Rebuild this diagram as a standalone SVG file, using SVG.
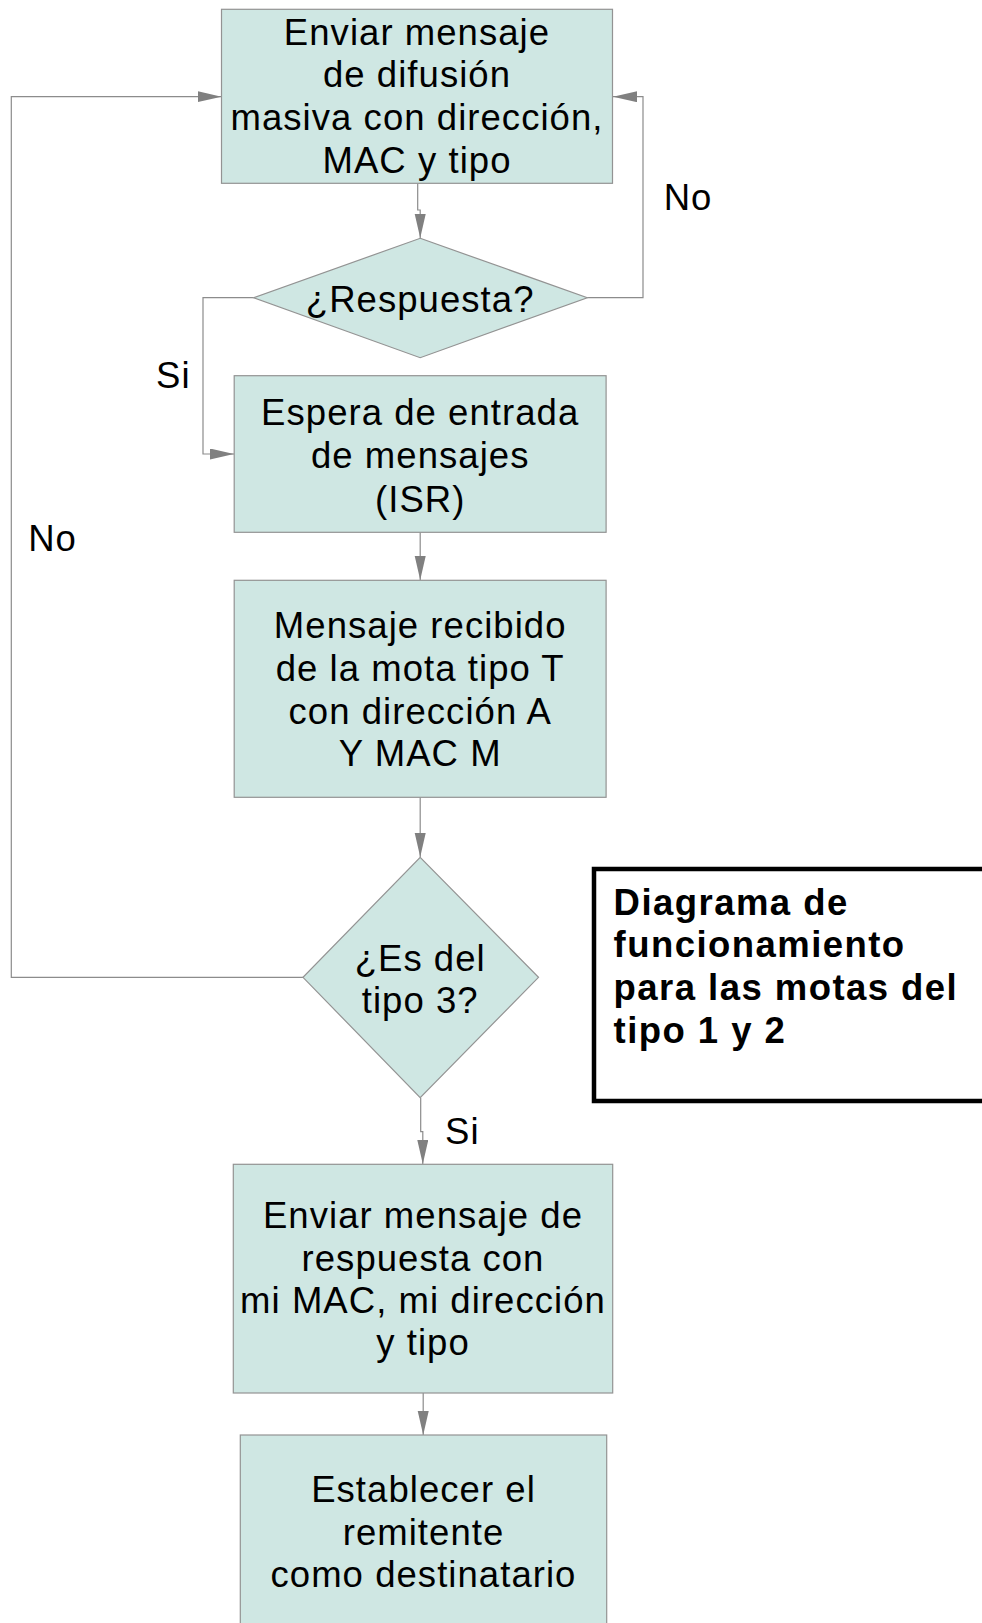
<svg xmlns="http://www.w3.org/2000/svg" width="982" height="1623" viewBox="0 0 982 1623">
<defs>
<style>
.box{fill:#cfe7e3;stroke:#939393;stroke-width:1.2}
.t{font-family:"Liberation Sans",Arial,sans-serif;font-size:36.5px;letter-spacing:1.05px;fill:#000;text-anchor:middle}
.lbl{font-family:"Liberation Sans",Arial,sans-serif;font-size:36.5px;letter-spacing:1.05px;fill:#000}
.title{font-family:"Liberation Sans",Arial,sans-serif;font-size:36.5px;font-weight:bold;letter-spacing:1.45px;fill:#000}
.c{fill:none;stroke:#8c8c8c;stroke-width:1.2}
</style>
<marker id="ah" markerUnits="userSpaceOnUse" markerWidth="26" markerHeight="12" refX="24" refY="5.5" orient="auto">
<path d="M0,0 L24,5.5 L0,11 z" fill="#808080"/>
</marker>
</defs>
<g id="connectors">
<path class="c" d="M417.7,183.3 V210 H420.2 V238" marker-end="url(#ah)"/>
<path class="c" d="M587.3,297.7 H643 V96.7 H613" marker-end="url(#ah)"/>
<path class="c" d="M253.6,297.7 H203 V454 H234" marker-end="url(#ah)"/>
<path class="c" d="M420.2,532.3 V580" marker-end="url(#ah)"/>
<path class="c" d="M420.2,797.3 V857" marker-end="url(#ah)"/>
<path class="c" d="M303,977.3 H11.3 V96.7 H221.5" marker-end="url(#ah)"/>
<path class="c" d="M420.7,1097.7 V1131.7 H422.8 V1164" marker-end="url(#ah)"/>
<path class="c" d="M423.2,1393 V1435" marker-end="url(#ah)"/>
</g>
<g id="n1">
<rect class="box" x="221.5" y="9.3" width="391" height="174"/>
<text class="t" x="417" y="44.5">Enviar mensaje</text>
<text class="t" x="417" y="87.3">de difusión</text>
<text class="t" x="417" y="130.1">masiva con dirección,</text>
<text class="t" x="417" y="172.9">MAC y tipo</text>
</g>
<g id="d1">
<polygon class="box" points="420.2,238.3 587.3,297.7 420.2,357.7 253.6,297.7"/>
<text class="t" x="420.2" y="311.7">¿Respuesta?</text>
</g>
<g id="n2">
<rect class="box" x="234.2" y="375.7" width="371.9" height="156.6"/>
<text class="t" x="420.2" y="425">Espera de entrada</text>
<text class="t" x="420.2" y="468.3">de mensajes</text>
<text class="t" x="420.2" y="511.6">(ISR)</text>
</g>
<g id="n3">
<rect class="box" x="234.2" y="580.3" width="371.9" height="217"/>
<text class="t" x="420.2" y="638">Mensaje recibido</text>
<text class="t" x="420.2" y="680.8">de la mota tipo T</text>
<text class="t" x="420.2" y="723.6">con dirección A</text>
<text class="t" x="420.2" y="766.4">Y MAC M</text>
</g>
<g id="d2">
<polygon class="box" points="420.2,857.3 538.5,977.3 420.2,1097.7 303,977.3"/>
<text class="t" x="420.2" y="970.7">¿Es del</text>
<text class="t" x="420.2" y="1013.3">tipo 3?</text>
</g>
<g id="n4">
<rect class="box" x="233.3" y="1164.3" width="379.4" height="228.7"/>
<text class="t" x="423" y="1228.3">Enviar mensaje de</text>
<text class="t" x="423" y="1270.5">respuesta con</text>
<text class="t" x="423" y="1312.7">mi MAC, mi dirección</text>
<text class="t" x="423" y="1354.9">y tipo</text>
</g>
<g id="n5">
<rect class="box" x="240.3" y="1435" width="366.4" height="210"/>
<text class="t" x="423.5" y="1502.3">Establecer el</text>
<text class="t" x="423.5" y="1544.8">remitente</text>
<text class="t" x="423.5" y="1587.3">como destinatario</text>
</g>
<g id="title">
<rect x="594" y="869" width="420" height="232" fill="#fff" stroke="#000" stroke-width="4.5"/>
<text class="title" x="613.6" y="915">Diagrama de</text>
<text class="title" x="613.6" y="957">funcionamiento</text>
<text class="title" x="613.6" y="1000">para las motas del</text>
<text class="title" x="613.6" y="1042.5">tipo 1 y 2</text>
</g>
<g id="labels">
<text class="lbl" x="663.7" y="210">No</text>
<text class="lbl" x="156" y="388.3">Si</text>
<text class="lbl" x="28.2" y="550.7">No</text>
<text class="lbl" x="445" y="1144">Si</text>
</g>
</svg>
